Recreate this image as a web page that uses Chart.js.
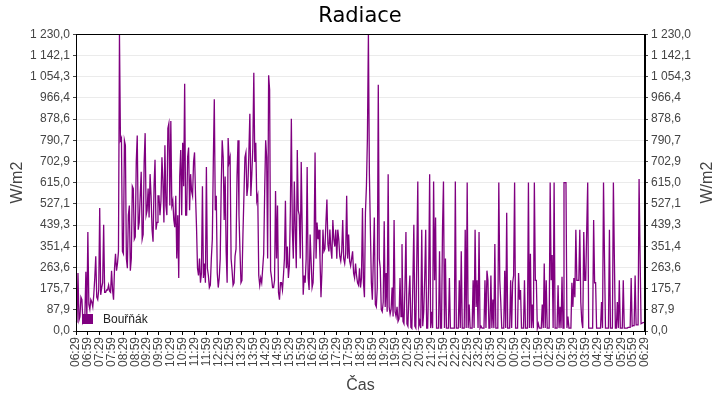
<!DOCTYPE html>
<html>
<head>
<meta charset="utf-8">
<title>Radiace</title>
<script src="https://cdn.jsdelivr.net/npm/chart.js@4.4.0/dist/chart.umd.min.js"></script>
<style>
	html, body { margin: 0; padding: 0; background: #fff; }
</style>
</head>
<body>
<canvas id="graf" width="720" height="400"></canvas>
<script>
// Popisky časové osy (po 30 minutách)
const casy = ['06:29', '06:59', '07:29', '07:59', '08:29', '08:59', '09:29', '09:59',
	'10:29', '10:59', '11:29', '11:59', '12:29', '12:59', '13:29', '13:59',
	'14:29', '14:59', '15:29', '15:59', '16:29', '16:59', '17:29', '17:59',
	'18:29', '18:59', '19:29', '19:59', '20:29', '20:59', '21:29', '21:59',
	'22:29', '22:59', '23:29', '23:59', '00:29', '00:59', '01:29', '01:59',
	'02:29', '02:59', '03:29', '03:59', '04:29', '04:59', '05:29', '05:59', '06:29'];

// Radiace ve W/m2, jedna hodnota po 2,5 minutách od 06:29 (řádek = půlhodina)
const radiace = [
	40, 38, 240, 45, 60, 140, 130, 35, 45, 60, 245, 50,
	410, 110, 90, 130, 120, 100, 150, 220, 310, 140, 130, 170,
	510, 150, 180, 200, 440, 160, 160, 170, 170, 190, 165, 160,
	250, 170, 130, 260, 320, 250, 280, 330, 1230, 790, 800, 330,
	320, 790, 770, 300, 260, 480, 520, 250, 300, 600, 590, 380,
	390, 700, 810, 420, 450, 560, 660, 380, 400, 700, 820, 480,
	500, 590, 470, 650, 560, 420, 370, 600, 710, 420, 450, 560,
	560, 480, 540, 720, 620, 450, 770, 520, 480, 840, 860, 520,
	870, 520, 540, 460, 430, 560, 300, 480, 220, 640, 750, 480,
	780, 600, 1025, 480, 480, 720, 760, 500, 650, 580, 560, 700,
	740, 560, 430, 260, 230, 300, 200, 240, 600, 220, 280, 200,
	680, 260, 230, 180, 190, 300, 380, 700, 960, 500, 560, 240,
	180, 220, 300, 600, 790, 720, 460, 640, 330, 200, 800, 700,
	720, 300, 250, 190, 200, 310, 340, 640, 790, 480, 330, 200,
	210, 400, 560, 720, 740, 560, 600, 740, 900, 560, 650, 760,
	1070, 700, 780, 540, 560, 230, 190, 220, 200, 260, 320, 580,
	790, 720, 300, 1060, 1000, 250, 220, 180, 180, 210, 580, 300,
	520, 160, 130, 200, 200, 170, 230, 300, 540, 260, 350, 220,
	270, 500, 880, 420, 300, 620, 420, 260, 750, 500, 480, 300,
	700, 420, 150, 230, 200, 300, 680, 220, 170, 400, 290, 180,
	200, 350, 740, 300, 450, 380, 420, 300, 140, 250, 420, 330,
	340, 450, 545, 360, 330, 420, 340, 300, 460, 380, 350, 420,
	300, 420, 380, 310, 290, 330, 460, 300, 280, 320, 560, 300,
	400, 290, 270, 300, 330, 240, 220, 280, 230, 200, 190, 260,
	180, 220, 510, 200, 140, 490, 600, 800, 1230, 650, 420, 200,
	130, 300, 470, 110, 100, 180, 1020, 300, 260, 90, 80, 120,
	455, 100, 240, 80, 650, 100, 70, 90, 180, 60, 460, 80,
	60, 100, 40, 50, 220, 60, 360, 40, 30, 180, 410, 30,
	20, 150, 230, 15, 10, 200, 440, 20, 12, 300, 620, 20,
	40, 12, 420, 20, 80, 220, 420, 12, 12, 200, 650, 12,
	80, 12, 620, 210, 470, 12, 12, 12, 330, 12, 12, 420,
	620, 12, 300, 12, 12, 12, 220, 12, 12, 12, 12, 12,
	620, 12, 12, 12, 210, 12, 330, 12, 12, 12, 420, 12,
	615, 12, 110, 12, 12, 12, 210, 12, 420, 100, 210, 12,
	410, 12, 20, 12, 12, 12, 210, 12, 250, 210, 12, 12,
	230, 12, 130, 12, 360, 12, 12, 12, 615, 210, 120, 12,
	12, 12, 250, 12, 490, 12, 12, 12, 210, 12, 200, 230,
	615, 12, 12, 12, 240, 130, 170, 12, 12, 12, 210, 12,
	12, 12, 615, 12, 320, 12, 110, 12, 615, 210, 210, 12,
	30, 12, 12, 12, 110, 12, 280, 12, 210, 12, 12, 12,
	615, 210, 315, 12, 615, 12, 12, 12, 190, 12, 100, 12,
	225, 12, 615, 615, 615, 12, 60, 12, 12, 12, 200, 100,
	220, 140, 420, 210, 210, 210, 420, 120, 40, 12, 410, 210,
	210, 420, 615, 12, 12, 12, 12, 12, 460, 200, 200, 12,
	12, 12, 12, 12, 120, 12, 615, 300, 12, 12, 12, 12,
	420, 12, 12, 12, 615, 300, 12, 12, 120, 12, 210, 12,
	12, 12, 210, 12, 12, 12, 12, 15, 15, 15, 220, 20,
	22, 22, 230, 25, 25, 25, 630, 320, 30, 32, 35, 36,
	38
];

// Popisky svislé osy
const yTicky = ['0,0', '87,9', '175,7', '263,6', '351,4', '439,3', '527,1', '615,0',
	'702,9', '790,7', '878,6', '966,4', '1 054,3', '1 142,1', '1 230,0'];
const yMax = 1230;
const nazevRady = 'Bouřňák';
const barva = '#800080';

const krok = (casy.length - 1) > 0 ? (radiace.length - 1) / (casy.length - 1) : 1;
let popisky = radiace.map((v, i) => i % krok === 0 ? casy[i / krok] : '');

const pismo = 'Liberation Sans, Arial, sans-serif';

// Tick hodnoty svislé osy podle popisků
function nastavTicky(scale) {
	scale.ticks = yTicky.map((t, i) => ({ value: yMax * i / (yTicky.length - 1) }));
}

// Rámeček, legenda uvnitř grafu a název pravé osy
const doplnky = {
	id: 'doplnky',
	afterDraw(chart) {
		const ctx = chart.ctx;
		const a = chart.chartArea;
		ctx.save();
		ctx.strokeStyle = '#000';
		ctx.lineWidth = 1;
		ctx.strokeRect(Math.round(a.left) + 0.5, Math.round(a.top) + 0.5,
			Math.round(a.right - a.left) - 1, Math.round(a.bottom - a.top));

		// legenda
		ctx.fillStyle = barva;
		ctx.fillRect(a.left + 6, a.bottom - 17, 11, 10);
		ctx.fillStyle = '#222';
		ctx.font = '12px ' + pismo;
		ctx.textBaseline = 'alphabetic';
		ctx.textAlign = 'left';
		ctx.fillText(chart.data.datasets[0].label, a.left + 27, a.bottom - 8);

		// název pravé osy
		ctx.translate(a.right + 63, (a.top + a.bottom) / 2);
		ctx.rotate(-Math.PI / 2);
		ctx.textAlign = 'center';
		ctx.textBaseline = 'middle';
		ctx.fillStyle = '#444';
		ctx.font = '16px ' + pismo;
		ctx.fillText('W/m2', 0, 0);
		ctx.restore();
	}
};

const config = {
	type: 'line',
	data: {
		labels: popisky,
		datasets: [{
			label: nazevRady,
			data: radiace,
			borderColor: barva,
			backgroundColor: barva,
			borderWidth: 1.3,
			pointRadius: 0,
			tension: 0,
			fill: false
		}]
	},
	options: {
		responsive: false,
		animation: false,
		layout: { padding: 0 },
		plugins: {
			legend: { display: false },
			tooltip: { enabled: false },
			title: {
				display: true,
				text: 'Radiace',
				color: '#000',
				font: { family: 'DejaVu Sans', size: 21, weight: 'normal' },
				padding: { top: 4, bottom: 5 }
			}
		},
		scales: {
			x: {
				type: 'category',
				afterFit(scale) { scale.height = 69; },
				grid: {
					drawOnChartArea: false,
					tickLength: 4,
					tickColor: (c) => (c.index % krok === 0 ? '#000' : 'rgba(0,0,0,0)')
				},
				border: { color: '#000' },
				ticks: {
					autoSkip: false,
					maxRotation: 90,
					minRotation: 90,
					padding: 2,
					color: '#444',
					font: { family: pismo, size: 12 },
					callback: (v, i) => popisky[i]
				},
				title: {
					display: true,
					text: 'Čas',
					color: '#444',
					font: { family: pismo, size: 16 },
					padding: { top: 0, bottom: 5 }
				}
			},
			y: {
				position: 'left',
				min: 0,
				max: yMax,
				afterFit(scale) { scale.width = 76; },
				afterBuildTicks: nastavTicky,
				grid: { color: '#ebebeb', tickLength: 3, tickColor: '#444' },
				border: { color: '#000' },
				ticks: {
					color: '#444',
					padding: 3,
					font: { family: pismo, size: 12 },
					callback: (v, i) => yTicky[i]
				},
				title: {
					display: true,
					text: 'W/m2',
					color: '#444',
					font: { family: pismo, size: 16 },
					padding: { top: 8, bottom: 0 }
				}
			},
			y2: {
				position: 'right',
				min: 0,
				max: yMax,
				afterFit(scale) { scale.width = 75; },
				afterBuildTicks: nastavTicky,
				grid: { drawOnChartArea: false, tickLength: 3, tickColor: '#444' },
				border: { color: '#000' },
				ticks: {
					color: '#444',
					padding: 3,
					font: { family: pismo, size: 12 },
					callback: (v, i) => yTicky[i]
				}
			}
		}
	},
	plugins: [doplnky]
};

let graf = new Chart(document.getElementById('graf'), config);
</script>
</body>
</html>
